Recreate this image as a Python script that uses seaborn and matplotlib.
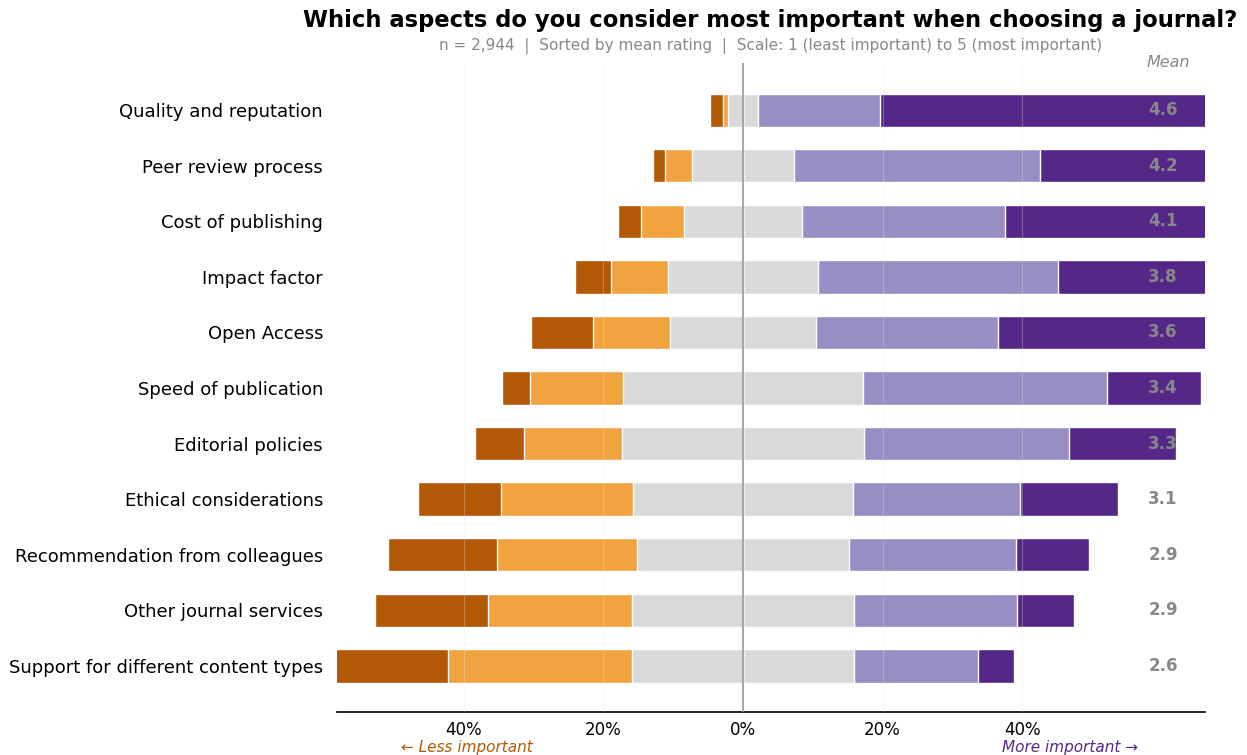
import matplotlib
matplotlib.use("Agg")
import matplotlib.pyplot as plt
import matplotlib.transforms as mtransforms
import seaborn as sns
import numpy as np
import pandas as pd

# survey answers, % of respondents per rating (1 = least important ... 5 = most important)
aspects = [
    "Quality and reputation",
    "Peer review process",
    "Cost of publishing",
    "Impact factor",
    "Open Access",
    "Speed of publication",
    "Editorial policies",
    "Ethical considerations",
    "Recommendation from colleagues",
    "Other journal services",
    "Support for different content types",
]
rating_1 = [1.9, 1.7, 3.3, 5.2, 9.0, 4.0, 7.0, 11.9, 15.6, 16.3, 18.9]
rating_2 = [0.7, 3.9, 6.2, 8.2, 11.0, 13.3, 14.1, 18.9, 20.1, 20.6, 26.4]
rating_3 = [4.3, 14.5, 16.9, 21.5, 20.9, 34.4, 34.6, 31.5, 30.3, 31.8, 31.7]
rating_4 = [17.5, 35.3, 29.1, 34.4, 26.1, 35.0, 29.4, 23.9, 23.9, 23.4, 17.8]
rating_5 = [75.6, 44.6, 44.5, 30.7, 33.0, 13.5, 15.3, 14.1, 10.5, 8.2, 5.2]
mean_rating = [4.6, 4.2, 4.1, 3.8, 3.6, 3.4, 3.3, 3.1, 2.9, 2.9, 2.6]

colors = ["#b35806", "#f1a340", "#d9d9d9", "#998ec3", "#542788"]

df = pd.DataFrame({
    "aspect": aspects,
    "r1": rating_1, "r2": rating_2, "r3": rating_3, "r4": rating_4, "r5": rating_5,
})
half = df["r3"] / 2
# diverging stack: widest extent first, narrower ones painted over it
right_layers = [
    (half + df["r4"] + df["r5"], colors[4]),
    (half + df["r4"], colors[3]),
    (half, colors[2]),
]
left_layers = [
    (-(half + df["r2"] + df["r1"]), colors[0]),
    (-(half + df["r2"]), colors[1]),
    (-half, colors[2]),
]

sns.set_style("white")
plt.rcParams["font.family"] = ["DejaVu Sans"]
plt.rcParams["text.color"] = "black"
plt.rcParams["xtick.color"] = "black"
plt.rcParams["ytick.color"] = "black"

fig = plt.figure(figsize=(12.47, 7.55), dpi=100)
ax = fig.add_axes([0.2702, 0.057, 0.6961, 0.8596])

for values, col in right_layers + left_layers:
    sns.barplot(x=values, y=df["aspect"], orient="h", color=col, width=0.6,
                edgecolor="white", linewidth=1, saturation=1, ax=ax)

ax.axvline(0, color="#999999", linewidth=1.2, zorder=5)

for i, m in enumerate(mean_rating):
    ax.text(60.2, i, f"{m:.1f}", ha="center", va="center", fontsize=12,
            fontweight="bold", color="#888888", zorder=6)
ax.text(61.0, -0.86, "Mean", ha="center", va="center", fontsize=11.5,
        style="italic", color="#888888")

ax.set_xlim(-58.2, 66.2)
ax.set_ylim(10.83, -0.85)
ticks = [-40, -20, 0, 20, 40]
ax.set_xticks(ticks)
ax.set_xticklabels([f"{abs(t)}%" for t in ticks], fontsize=12)
ax.tick_params(axis="x", length=4, width=1, color="black", pad=2.5)
ax.tick_params(axis="y", length=0, labelsize=13, pad=10)
ax.set_xlabel("")
ax.set_ylabel("")

ax.set_axisbelow(False)
ax.grid(axis="x", color="#e6e6e6", alpha=0.3, linewidth=0.8)
ax.grid(axis="y", visible=False)
sns.despine(ax=ax, left=True, top=True, right=True)
ax.spines["bottom"].set_color("black")
ax.spines["bottom"].set_linewidth(1.2)

trans = mtransforms.blended_transform_factory(ax.transData, ax.transAxes)
ax.text(-39.6, -0.055, "\u2190 Less important", transform=trans, ha="center",
        va="center", fontsize=11, style="italic", color="#b35806")
ax.text(46.9, -0.055, "More important \u2192", transform=trans, ha="center",
        va="center", fontsize=11, style="italic", color="#542788")

fig.text(0.618, 0.973, "Which aspects do you consider most important when choosing a journal?",
         ha="center", va="center", fontsize=16.3, fontweight="bold")
fig.text(0.618, 0.939,
         "n = 2,944  |  Sorted by mean rating  |  Scale: 1 (least important) to 5 (most important)",
         ha="center", va="center", fontsize=11, color="#888888")

fig.savefig("out.png", dpi=100)
